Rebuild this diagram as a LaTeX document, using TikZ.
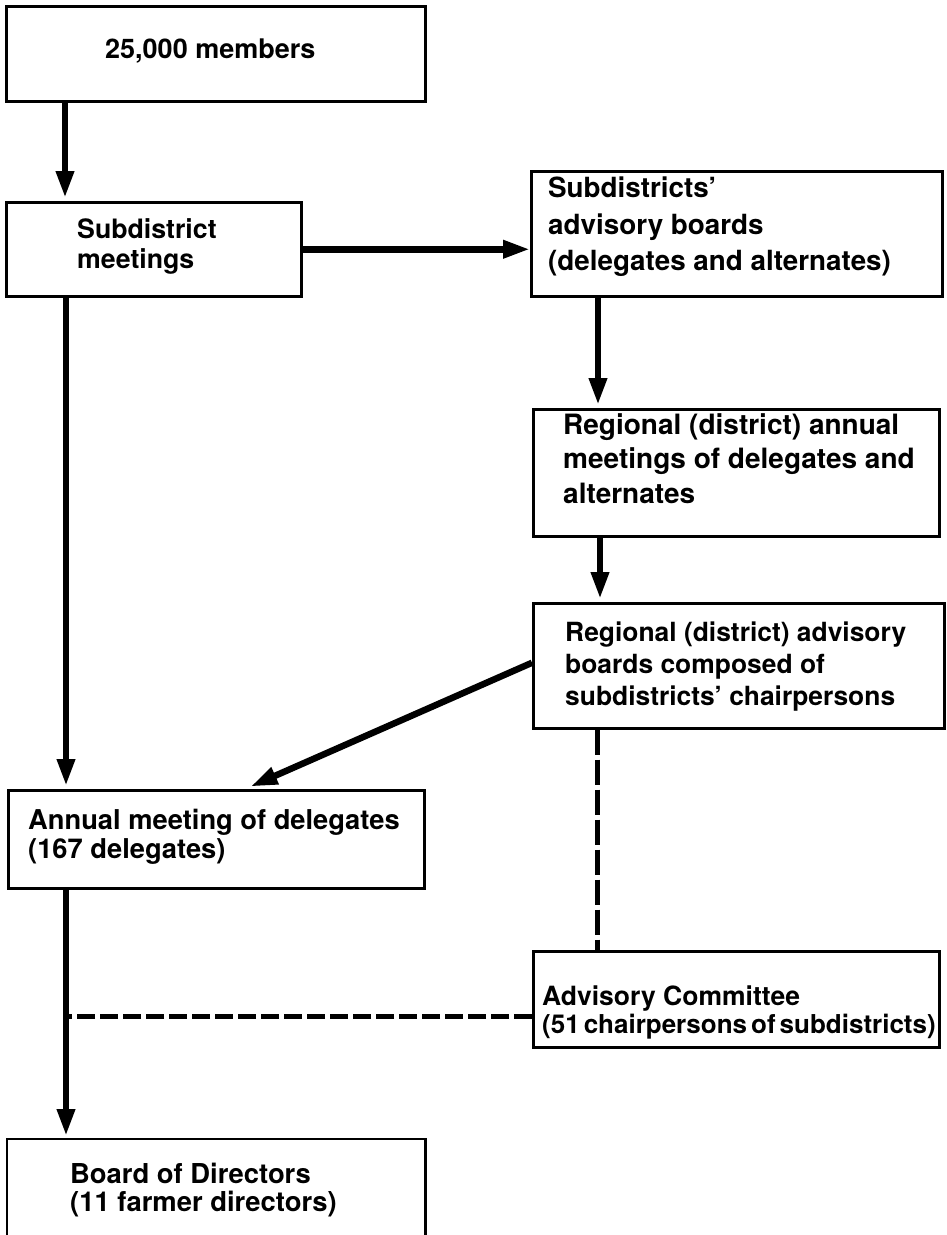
\documentclass[tikz,border=0pt]{standalone}
\usepackage{fontspec}
\setmainfont{TeX Gyre Heros}
\usetikzlibrary{arrows.meta}
\newcommand{\fsz}[2]{\bfseries\fontsize{#1}{#2}\selectfont}
\begin{document}
\begin{tikzpicture}[x=1pt,y=-1pt,
  box/.style={draw,line width=2.5pt,rectangle,inner sep=0pt,anchor=north west},
  lbl/.style={anchor=north west,inner sep=0pt,align=left},
  arr/.style={line width=6.5pt,-{Triangle[length=27pt,width=17pt]},shorten >=3pt},
  dshv/.style={line width=5pt,dash pattern=on 25pt off 5pt},
  dshh/.style={line width=5pt,dash pattern=on 18pt off 5pt}]
\useasboundingbox (0,0) rectangle (946,1235);
% boxes
\node[box,minimum width=419pt,minimum height=95pt] (b1) at (5,5) {};
\node[box,minimum width=295pt,minimum height=94pt] (b2) at (5,201) {};
\node[box,minimum width=411pt,minimum height=125pt] (b3) at (530,170) {};
\node[box,minimum width=406pt,minimum height=127pt] (b4) at (532,408) {};
\node[box,minimum width=411pt,minimum height=125pt] (b5) at (532,602) {};
\node[box,minimum width=416pt,minimum height=98pt] (b6) at (7,789) {};
\node[box,minimum width=406pt,minimum height=96pt] (b7) at (532,950) {};
\node[box,draw=none,minimum width=416pt,minimum height=94pt] (b8) at (7,1139) {};
\draw[line width=2.5pt] (b8.south west) -- (b8.north west) -- (b8.north east) -- (b8.south east);
% labels
\node[lbl,font=\fsz{27}{30}] (t1) at (105,38.5) {25,000 members};
\node[lbl,font=\fsz{26.7}{30}] (t2) at (77,218) {Subdistrict\\meetings};
\node[lbl,font=\fsz{27.8}{36.5}] (t3) at (548,177) {Subdistricts’\\advisory boards\\(delegates and alternates)};
\node[lbl,font=\fsz{28}{34.5}] (t4) at (563,413) {Regional (district) annual\\meetings of delegates and\\alternates};
\node[lbl,font=\fsz{26.4}{32}] (t5) at (565,622) {Regional (district) advisory\\boards composed of\\subdistricts’ chairpersons};
\node[lbl,font=\fsz{27.3}{29}] (t6) at (28,808.5) {Annual meeting of delegates\\(167 delegates)};
\node[lbl,font=\fsz{26.5}{28}] (t7) at (542,986) {Advisory Committee\\{\fontsize{26}{28}\selectfont\spaceskip=4pt (51 chairpersons of subdistricts)}};
\node[lbl,font=\fsz{27.4}{28}] (t8) at (70,1162.5) {Board of Directors\\(11 farmer directors)};
% connectors
\draw[arr] ([xshift=60]b1.south west) coordinate (s1) -- (s1 |- b2.north);
\draw[arr,shorten >=0pt] (b2.east) -- (b2.east -| b3.west);
\draw[arr] ([xshift=68]b3.south west) coordinate (s3) -- (s3 |- b4.north);
\draw[arr] ([xshift=68]b4.south west) coordinate (s4) -- (s4 |- b5.north);
\draw[arr,shorten >=6pt] ([yshift=3]b5.west) -- ([xshift=238]b6.north west);
\draw[arr] ([xshift=61]b2.south west) coordinate (s2) -- (s2 |- b6.north);
\draw[arr] ([xshift=59]b6.south west) coordinate (s6) -- (s6 |- b8.north);
\draw[dshv] ([xshift=65]b5.south west) coordinate (s5) -- (s5 |- b7.north);
\draw[dshh] ([yshift=-17]b7.west) coordinate (d2) -- (d2 -| s6);
\end{tikzpicture}
\end{document}
